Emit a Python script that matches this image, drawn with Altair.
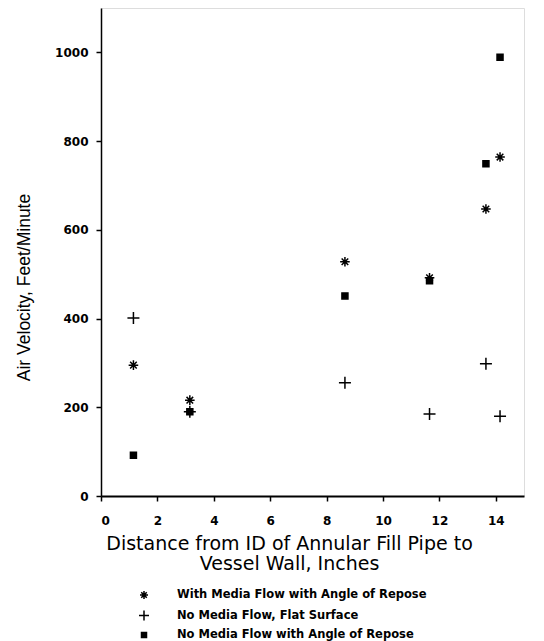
import altair as alt
import pandas as pd

# Data
distance = [1.15, 3.15, 8.65, 11.65, 13.65, 14.15]
with_flow_repose = [295, 216, 528, 492, 647, 764]
no_flow_flat = [401, 190, 255, 185, 298, 180]
no_flow_repose = [92, 190, 451, 485, 749, 989]

series_names = [
    "With Media Flow with Angle of Repose",
    "No Media Flow, Flat Surface",
    "No Media Flow with Angle of Repose",
]
series_values = [with_flow_repose, no_flow_flat, no_flow_repose]

x_ticks = [0, 2, 4, 6, 8, 10, 12, 14]
y_ticks = [0, 200, 400, 600, 800, 1000]

rows = []
for name, vals in zip(series_names, series_values):
    for d, v in zip(distance, vals):
        rows.append({"Distance": d, "Velocity": v, "Series": name})
df = pd.DataFrame(rows)

asterisk = "M-0.8,0H0.8M-0.55,-0.55L0.55,0.55M-0.55,0.55L0.55,-0.55M0,-0.8V0.8"
plus = "M-1,0H1M0,-1V1"
square = "M-0.5,-0.5H0.5V0.5H-0.5Z"


def make_legend():
    return alt.Legend(
        title=None,
        orient="none",
        legendX=37,
        legendY=581,
        direction="vertical",
        padding=0,
        labelFont="DejaVu Sans",
        labelFontWeight="bold",
        labelFontSize=11.5,
        labelColor="black",
        labelLimit=0,
        labelOffset=27,
        rowPadding=5.5,
        symbolSize=100,
        symbolStrokeWidth=1.5,
        symbolOpacity=1,
    )


black3 = ["black", "black", "black"]

chart = alt.Chart(df).mark_point(
    filled=False, strokeWidth=1.5, size=144, opacity=1
).encode(
    x=alt.X(
        "Distance:Q",
        scale=alt.Scale(domain=[0, 15], nice=False, zero=False),
        axis=alt.Axis(
            values=x_ticks,
            grid=False,
            title=["Distance from ID of Annular Fill Pipe to", "Vessel Wall, Inches"],
            titleFont="DejaVu Sans",
            titleFontSize=19,
            titleFontWeight="normal",
            titleColor="black",
            titleX=188,
            titleY=38,
            titleBaseline="top",
            titleLineHeight=20,
            labelFont="DejaVu Sans",
            labelFontWeight="bold",
            labelFontSize=12,
            labelColor="black",
            labelPadding=14,
            tickSize=5,
            tickWidth=1.5,
            tickColor="black",
            domainColor="black",
            domainWidth=2,
        ),
    ),
    y=alt.Y(
        "Velocity:Q",
        scale=alt.Scale(domain=[0, 1100], nice=False),
        axis=alt.Axis(
            values=y_ticks,
            format="d",
            grid=False,
            title="Air Velocity, Feet/Minute",
            titleFont="Liberation Sans",
            titleFontSize=17.5,
            titleFontWeight="normal",
            titleColor="black",
            titleX=-68,
            titleY=279,
            titleBaseline="bottom",
            labelFont="DejaVu Sans",
            labelFontWeight="bold",
            labelFontSize=12,
            labelColor="black",
            labelPadding=8,
            tickSize=5,
            tickWidth=1.5,
            tickColor="black",
            domainColor="black",
            domainWidth=1.5,
        ),
    ),
    shape=alt.Shape(
        "Series:N",
        scale=alt.Scale(domain=series_names, range=[asterisk, plus, square]),
        legend=make_legend(),
    ),
    fill=alt.Fill(
        "Series:N",
        scale=alt.Scale(domain=series_names, range=black3),
        legend=make_legend(),
    ),
    stroke=alt.Stroke(
        "Series:N",
        scale=alt.Scale(domain=series_names, range=black3),
        legend=make_legend(),
    ),
).properties(
    width=423,
    height=488,
    autosize=alt.AutoSizeParams(type="none"),
    padding={"left": 93, "top": 0, "right": 4, "bottom": 145},
).configure_view(
    stroke="black", strokeWidth=1
).configure(background="white")

chart.save("out.html", embed_options={"renderer": "svg", "actions": False})
